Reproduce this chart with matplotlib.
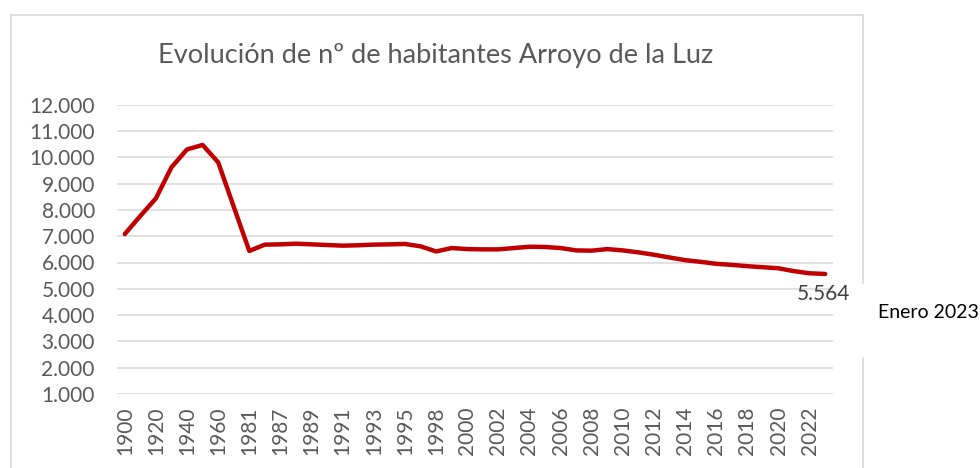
import matplotlib
matplotlib.use("Agg")
import matplotlib.pyplot as plt
from matplotlib.lines import Line2D
from matplotlib.ticker import FuncFormatter, FixedLocator

years = [1900, 1910, 1920, 1930, 1940, 1950, 1960, 1970, 1981,
         1986, 1987, 1988, 1989, 1990, 1991, 1992, 1993, 1994, 1995, 1996,
         1998, 1999, 2000, 2001, 2002, 2003, 2004, 2005, 2006, 2007, 2008,
         2009, 2010, 2011, 2012, 2013, 2014, 2015, 2016, 2017, 2018, 2019,
         2020, 2021, 2022, 2023]
habitantes = [7080, 7770, 8440, 9620, 10300, 10470, 9810, 8120, 6440,
              6680, 6690, 6715, 6690, 6665, 6640, 6655, 6680, 6690, 6705, 6615,
              6420, 6550, 6510, 6500, 6500, 6550, 6600, 6590, 6550, 6460, 6450,
              6510, 6460, 6385, 6295, 6190, 6090, 6025, 5950, 5910, 5860, 5820,
              5780, 5670, 5590, 5564]
yticks = list(range(1000, 13000, 1000))
title = "Evolución de nº de habitantes Arroyo de la Luz"
note = "Enero 2023"

W, H = 980, 468
fig = plt.figure(figsize=(W / 100, H / 100), dpi=100)
fig.patch.set_facecolor("white")
ax = fig.add_axes([117 / W, 1 - 394 / H, (833 - 117) / W, (394 - 104.7) / H])

pos = list(range(len(years)))
ax.plot(pos, habitantes, color="#C00000", lw=3.2, solid_capstyle="round",
        solid_joinstyle="round", zorder=3)

ax.set_xlim(-0.5, len(years) - 0.5)
ax.set_ylim(1000, 12000)
ax.yaxis.set_major_locator(FixedLocator(yticks))
ax.yaxis.set_major_formatter(FuncFormatter(lambda v, p: f"{v:,.0f}".replace(",", ".")))
ax.set_xticks(pos[::2])
ax.set_xticklabels([str(y) for y in years[::2]], rotation=90)
ax.grid(axis="y", color="#D9D9D9", lw=1.1)
ax.set_axisbelow(True)
for s in ax.spines.values():
    s.set_visible(False)
ax.tick_params(axis="both", length=0, colors="#595959", labelsize=15)
ax.tick_params(axis="x", pad=9)
ax.tick_params(axis="y", pad=16)
for lab in ax.get_xticklabels() + ax.get_yticklabels():
    lab.set_fontfamily("Lato")

last = len(years) - 1
ax.annotate(f"{habitantes[last]:,.0f}".replace(",", "."), (pos[last], habitantes[last]),
            xytext=(-1, -14.5), textcoords="offset points", ha="center", va="center",
            fontsize=15, color="#404040", family="Lato", annotation_clip=False)

fig.text(436 / W, 1 - 63.3 / H, title, ha="center", va="baseline",
         fontsize=19.5, color="#595959", family="Lato")
fig.text(878 / W, 1 - 313 / H, note, ha="left", va="center",
         fontsize=14, color="black", family="Lato")

fc = "#D9D9D9"
def seg(x0, y0, x1, y1):
    fig.add_artist(Line2D([x0 / W, x1 / W], [1 - y0 / H, 1 - y1 / H],
                          color=fc, lw=1.2, transform=fig.transFigure))
seg(10.5, 15, 10.5, H)
seg(10.5, 15, 863, 15)
seg(863, 15, 863, 283)
seg(863, 358, 863, H)

fig.savefig("out.png", dpi=100)
